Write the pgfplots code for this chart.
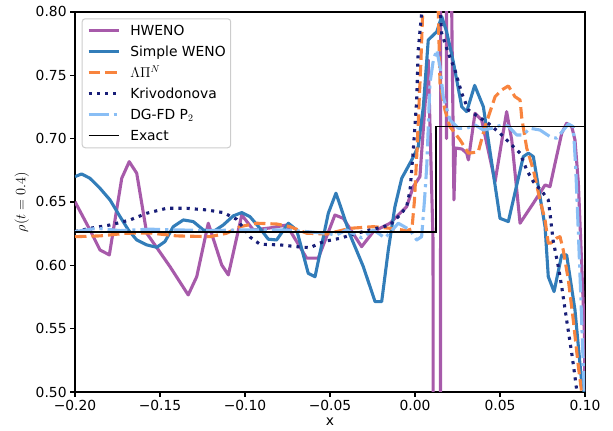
\documentclass[border=0pt]{standalone}
\usepackage{fontspec}
\setmainfont{DejaVu Sans}
\usepackage{pgfplots}
\pgfplotsset{compat=1.18}
\definecolor{hweno}{RGB}{167,90,170}
\definecolor{sweno}{RGB}{50,125,185}
\definecolor{lpn}{RGB}{248,132,62}
\definecolor{kriv}{RGB}{24,30,120}
\definecolor{dgfd}{RGB}{137,190,245}
\begin{document}
\begin{tikzpicture}
\begin{axis}[
  name=ax,
  scale only axis, width=510bp, height=380bp,
  xmin=-0.2, xmax=0.1, ymin=0.5, ymax=0.8,
  xtick={-0.2,-0.15,-0.1,-0.05,0,0.05,0.1},
  xticklabels={−0.20,−0.15,−0.10,−0.05,0.00,0.05,0.10},
  ytick={0.5,0.55,0.6,0.65,0.7,0.75,0.8},
  yticklabels={0.50,0.55,0.60,0.65,0.70,0.75,0.80},
  tick align=outside, tick pos=left,
  major tick length=4.9bp,
  every tick/.style={black, line width=1.1bp},
  axis line style={line width=1.1bp},
  tick label style={font=\fontsize{13.9}{16}\selectfont},
  label style={font=\fontsize{13.9}{16}\selectfont},
  xlabel={x}, ylabel={$\rho(t=0.4)$},
  legend cell align=left,
  legend image code/.code={\draw[#1] (0bp,0bp) -- (30bp,0bp);},
  legend style={at={(0,1)}, anchor=north west, xshift=6.7bp, yshift=-6.3bp,
    draw=black!20, line width=1bp, rounded corners=3bp, fill=white, fill opacity=0.8, text opacity=1,
    inner xsep=5bp, inner ysep=5bp, row sep=7bp, column sep=10bp,
    font=\fontsize{13.9}{16}\selectfont,
    nodes={inner sep=0bp, text height=12bp, text depth=2bp}},
  every axis plot/.append style={line width=3.1bp, line join=round},
]
\addplot[hweno, solid] coordinates {
(-0.2000,0.6502) (-0.1912,0.6279) (-0.1853,0.6121) (-0.1798,0.6082) (-0.1725,0.6687)
(-0.1681,0.6818) (-0.1637,0.6727) (-0.1578,0.6253) (-0.1441,0.5989) (-0.1334,0.5766)
(-0.1284,0.5910) (-0.1216,0.6332) (-0.1137,0.6003) (-0.1098,0.5924) (-0.1019,0.6397)
(-0.0951,0.6279) (-0.0853,0.6295) (-0.0755,0.6318) (-0.0637,0.6056) (-0.0569,0.6056)
(-0.0471,0.6397) (-0.0422,0.6371) (-0.0314,0.6147) (-0.0245,0.6266) (-0.0147,0.6332)
(-0.0049,0.6463) (-0.0010,0.6621) (0.0029,0.6700) (0.0078,0.7621) (0.0106,0.62)
(0.0115,-1.0) (0.0144,-2.0) (0.0156,3.0) (0.0165,3.0) (0.0185,0.70) (0.0200,3.0)
(0.0203,0.95) (0.0229,0.6516) (0.0238,0.6926) (0.0276,0.6918) (0.0304,0.6885)
(0.0314,0.6832) (0.0353,0.7200) (0.0392,0.7147) (0.0471,0.6660) (0.0539,0.7213)
(0.0569,0.6990) (0.0618,0.6332) (0.0696,0.6490) (0.0765,0.6634) (0.0794,0.6621)
(0.0824,0.6806) (0.0863,0.7042) (0.0892,0.7121) (0.0922,0.7094) (0.0941,0.6990)
(0.0961,0.6648) (0.0981,0.5989) (0.0996,0.5466) (0.1000,0.4937)
};
\addlegendentry{HWENO}
\addplot[sweno, solid] coordinates {
(-0.2000,0.6700) (-0.1961,0.6721) (-0.1912,0.6687) (-0.1853,0.6608) (-0.1794,0.6516)
(-0.1735,0.6384) (-0.1686,0.6279) (-0.1637,0.6200) (-0.1578,0.6161) (-0.1519,0.6142)
(-0.1471,0.6187) (-0.1422,0.6305) (-0.1363,0.6358) (-0.1304,0.6345) (-0.1245,0.6279)
(-0.1186,0.6266) (-0.1128,0.6318) (-0.1069,0.6390) (-0.1019,0.6416) (-0.0971,0.6384)
(-0.0912,0.6292) (-0.0863,0.6206) (-0.0814,0.6200) (-0.0745,0.6332) (-0.0696,0.6279)
(-0.0628,0.5937) (-0.0588,0.5910) (-0.0510,0.6411) (-0.0465,0.6569) (-0.0441,0.6476)
(-0.0382,0.6240) (-0.0304,0.5989) (-0.0235,0.5713) (-0.0196,0.5713) (-0.0157,0.6121)
(-0.0118,0.6463) (-0.0078,0.6687) (-0.0019,0.6832) (0.0019,0.6937) (0.0049,0.7252)
(0.0078,0.7779) (0.0128,0.7844) (0.0157,0.7963) (0.0186,0.7844) (0.0225,0.7608)
(0.0275,0.7252) (0.0304,0.7213) (0.0351,0.7420) (0.0402,0.7252) (0.0500,0.6371)
(0.0549,0.6345) (0.0637,0.6858) (0.0667,0.6885) (0.0696,0.6858) (0.0765,0.6305)
(0.0784,0.5910) (0.0818,0.5792) (0.0863,0.6082) (0.0892,0.6082) (0.0941,0.5647)
(0.0981,0.5069) (0.1000,0.4976)
};
\addlegendentry{Simple WENO}
\addplot[lpn, line cap=butt, dash pattern=on 11.5bp off 5bp] coordinates {
(-0.2000,0.6226) (-0.1853,0.6232) (-0.1696,0.6253) (-0.1559,0.6255) (-0.1402,0.6232)
(-0.1206,0.6226) (-0.1108,0.6253) (-0.1029,0.6305) (-0.0931,0.6332) (-0.0814,0.6326)
(-0.0735,0.6305) (-0.0637,0.6253) (-0.0520,0.6247) (-0.0382,0.6292) (-0.0245,0.6305)
(-0.0147,0.6292) (-0.0049,0.6274) (-0.0018,0.6287) (-0.0003,0.6516) (0.0012,0.6911)
(0.0035,0.7621) (0.0059,0.85) (0.0128,0.85) (0.0147,0.7437) (0.0176,0.7226)
(0.0206,0.7094) (0.0265,0.6990) (0.0314,0.6885) (0.0372,0.6895) (0.0412,0.7094)
(0.0471,0.7331) (0.0510,0.7384) (0.0549,0.7416) (0.0588,0.7331) (0.0618,0.7305)
(0.0628,0.7163) (0.0657,0.6926) (0.0696,0.6753) (0.0735,0.6516) (0.0765,0.6358)
(0.0784,0.6174) (0.0800,0.6176) (0.0835,0.6216) (0.0853,0.6226) (0.0872,0.6121)
(0.0902,0.5884) (0.0931,0.5568) (0.0961,0.5200) (0.0981,0.4992)
};
\addlegendentry{$\Lambda\Pi^N$}
\addplot[kriv, line cap=butt, dash pattern=on 3.1bp off 5.1bp] coordinates {
(-0.2000,0.6266) (-0.1912,0.6292) (-0.1794,0.6318) (-0.1676,0.6358) (-0.1578,0.6411)
(-0.1461,0.6450) (-0.1343,0.6450) (-0.1225,0.6437) (-0.1128,0.6416) (-0.1049,0.6363)
(-0.1000,0.6279) (-0.0971,0.6224) (-0.0912,0.6166) (-0.0794,0.6161) (-0.0696,0.6147)
(-0.0618,0.6139) (-0.0539,0.6187) (-0.0441,0.6213) (-0.0343,0.6253) (-0.0225,0.6292)
(-0.0147,0.6318) (-0.0088,0.6397) (-0.0049,0.6463) (-0.0029,0.6595) (-0.0010,0.6911)
(0.0010,0.7305) (0.0019,0.7700) (0.0039,0.7990) (0.0053,0.85) (0.0124,0.85)
(0.0157,0.7832) (0.0196,0.7674) (0.0235,0.7542) (0.0275,0.7358) (0.0314,0.7226)
(0.0372,0.7174) (0.0431,0.7121) (0.0500,0.7042) (0.0559,0.6963) (0.0618,0.6885)
(0.0657,0.6753) (0.0696,0.6660) (0.0755,0.6569) (0.0784,0.6516) (0.0794,0.6411)
(0.0812,0.6200) (0.0843,0.5989) (0.0863,0.5831) (0.0892,0.5568) (0.0922,0.5305)
(0.0941,0.5121) (0.0951,0.5016) (0.0965,0.4937)
};
\addlegendentry{Krivodonova}
\addplot[dgfd, line cap=butt, dash pattern=on 19.8bp off 5bp on 3.1bp off 5bp] coordinates {
(-0.2000,0.6266) (-0.1872,0.6292) (-0.1735,0.6274) (-0.1559,0.6285) (-0.1382,0.6279)
(-0.1206,0.6274) (-0.1029,0.6279) (-0.0775,0.6279) (-0.0637,0.6266) (-0.0547,0.6255)
(-0.0461,0.6240) (-0.0402,0.6279) (-0.0314,0.6216) (-0.0245,0.6279) (-0.0176,0.6216)
(-0.0098,0.6332) (-0.0029,0.6279) (0.0010,0.6200) (0.0039,0.6226) (0.0056,0.6516)
(0.0069,0.6779) (0.0088,0.7437) (0.0108,0.7621) (0.0128,0.7700) (0.0147,0.7568)
(0.0166,0.7331) (0.0206,0.7147) (0.0255,0.7082) (0.0304,0.7082) (0.0353,0.7108)
(0.0402,0.7068) (0.0451,0.7082) (0.0510,0.7108) (0.0547,0.7100) (0.0598,0.7029)
(0.0637,0.7029) (0.0676,0.7082) (0.0735,0.7068) (0.0794,0.7016) (0.0833,0.7003)
(0.0882,0.7082) (0.0902,0.7116) (0.0931,0.7094) (0.0945,0.6779) (0.0961,0.6253)
(0.0976,0.5726) (0.0990,0.5200) (0.0997,0.4976)
};
\addlegendentry{DG-FD P$_2$}
\addplot[black, solid, line width=1.4bp, line join=miter] coordinates {
(-0.2,0.6263) (0.0124,0.6263) (0.0124,0.7094) (0.1,0.7094)
};
\addlegendentry{Exact}
\end{axis}
\pgfresetboundingbox
\path (ax.south west) ++(-75bp,-39bp);
\path (ax.north east) ++(28bp,12bp);
\end{tikzpicture}
\end{document}
